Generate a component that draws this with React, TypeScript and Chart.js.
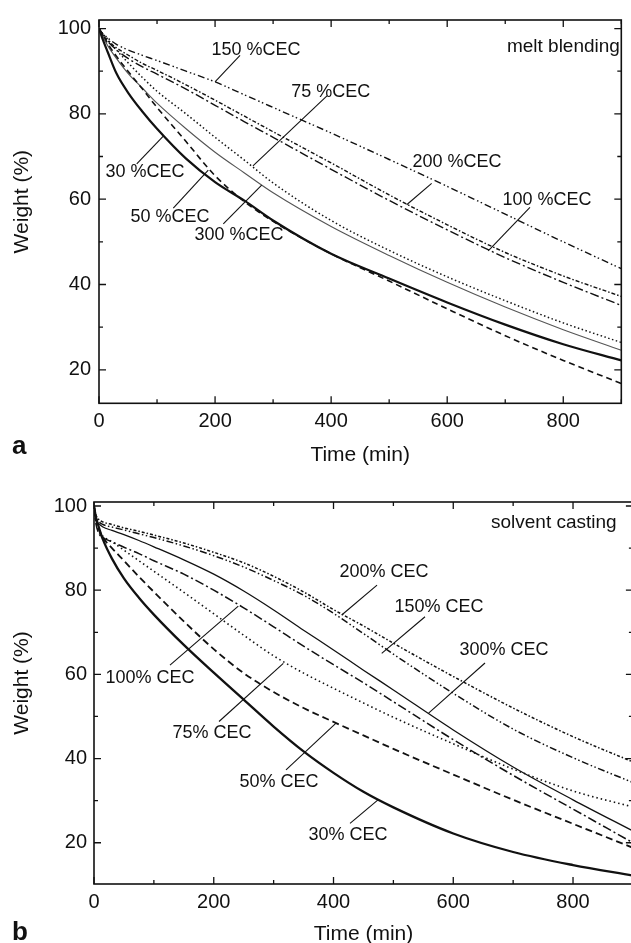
import React, { useEffect, useRef } from "react";
import { Chart, registerables } from "chart.js";

Chart.register(...registerables);

const FONT = 'Arial, "Liberation Sans", Helvetica, sans-serif';
const INK = "#111111";

// ---------- axis ticks ----------
const X_TICKS = [0, 200, 400, 600, 800];
const Y_TICKS = [20, 40, 60, 80, 100];
const X_MINOR_STEP = 100;
const Y_MINOR_STEP = 10;

// ---------- panel a : melt blending ----------
const TIME_A = [0, 5, 15, 30, 50, 75, 100, 150, 200, 250, 300, 400, 500, 600, 700, 800, 900];
const MB_30 = [100, 98, 94.5, 89.5, 85, 80.5, 76.5, 69.5, 64, 59.7, 55, 47.2, 41.4, 35.8, 30.6, 26, 22.2];
const MB_50 = [100, 99, 96.5, 93.5, 90, 85.8, 81.5, 73.5, 65.5, 59.5, 54.8, 47.2, 40.8, 34.3, 28, 22.2, 16.8];
const MB_75 = [100, 99, 97.5, 95, 92, 88.5, 85.3, 80, 74.5, 69.2, 63.8, 55, 48, 41.8, 36.2, 31, 26.4];
const MB_100 = [100, 98.8, 97, 95, 93, 91, 89.3, 85.8, 82, 78.2, 74.5, 67, 59.7, 52.8, 46.3, 40.5, 35.1];
const MB_150 = [100, 99, 97.8, 96.3, 95, 93.7, 92.5, 90, 87.5, 84.5, 81.5, 75.5, 69.3, 63, 56.5, 50, 43.7];
const MB_200 = [100, 98.8, 97.2, 95.5, 93.8, 91.8, 90.2, 86.8, 83.2, 79.5, 75.8, 68.5, 61, 54, 47.5, 42, 37.2];
const MB_300 = [100, 98.5, 96, 93, 89.5, 86, 82.5, 76.5, 71, 66.2, 61.5, 53.6, 46.8, 40.5, 34.7, 29.4, 24.6];

// ---------- panel b : solvent casting ----------
const TIME_B = [0, 3, 8, 15, 30, 50, 75, 100, 150, 200, 250, 300, 350, 400, 450, 500, 600, 700, 800, 900];
const SC_30 = [100, 97.5, 95, 92, 87.5, 82.8, 78.2, 74.2, 67, 60.4, 54, 47.6, 41.7, 36.6, 32.1, 28.4, 22.2, 17.8, 14.7, 12.2];
const SC_50 = [100, 97, 94.5, 92.5, 90, 87, 83.2, 79.6, 72.6, 66, 60.3, 55.8, 52, 48.7, 45.5, 42.3, 36.2, 30.2, 24.5, 18.8];
const SC_75 = [100, 96.5, 94, 92.8, 91.5, 89.5, 87, 84.5, 79.5, 74.4, 69.3, 64.4, 60.3, 56.7, 53.2, 49.8, 43.5, 37.5, 32.3, 28.5];
const SC_100 = [100, 96, 93.5, 92.5, 91.5, 90.2, 88.7, 87, 83.8, 80, 75.8, 71.3, 66.7, 62.3, 58, 53.5, 44.5, 36, 28, 20];
const SC_150 = [100, 97.5, 96.3, 95.6, 95, 94.3, 93.4, 92.5, 90.5, 88.2, 85.5, 82.3, 78.8, 74.5, 69.7, 64.8, 55.5, 47, 40.2, 34.3];
const SC_200 = [100, 98, 96.8, 96.2, 95.6, 94.8, 94, 93.1, 91.2, 89, 86.5, 83.3, 79.6, 75.4, 71.5, 67.4, 59.5, 52, 45.2, 39.2];
const SC_300 = [100, 97, 95.8, 95, 94.2, 93.2, 91.8, 90.3, 87.2, 83.8, 79.8, 75.3, 70.5, 65.8, 61, 56.3, 46.8, 38, 30.2, 22.8];

// ---------- line styles ----------
const STYLE_A: Record<string, { w: number; dash: number[]; color: string }> = {
  "30": { w: 2.2, dash: [], color: INK },
  "50": { w: 1.6, dash: [6, 4], color: INK },
  "75": { w: 1.5, dash: [1.5, 2.5], color: INK },
  "100": { w: 1.4, dash: [9, 3, 2, 3], color: INK },
  "150": { w: 1.4, dash: [7, 3, 1.5, 2.5, 1.5, 3], color: INK },
  "200": { w: 1.4, dash: [4, 2, 1.5, 2], color: INK },
  "300": { w: 1.1, dash: [], color: "#555555" },
};
const STYLE_B: Record<string, { w: number; dash: number[]; color: string }> = {
  "30": { w: 2.3, dash: [], color: INK },
  "50": { w: 1.8, dash: [7, 4], color: INK },
  "75": { w: 1.6, dash: [1.5, 3], color: INK },
  "100": { w: 1.5, dash: [9, 3, 2, 3], color: INK },
  "150": { w: 1.5, dash: [7, 2.5, 1.5, 2.5, 1.5, 2.5], color: INK },
  "200": { w: 1.5, dash: [3, 2, 1.5, 2], color: INK },
  "300": { w: 1.3, dash: [], color: INK },
};

// ---------- curve labels (data coordinates) ----------
type Note = { text: string; at: [number, number]; from: [number, number]; to: [number, number] };
const NOTES_A: Note[] = [
  { text: "150 %CEC", at: [270.5, 94.85], from: [243, 93.7], to: [199.9, 87.5] },
  { text: "75 %CEC", at: [399.4, 85.2], from: [392.8, 84.2], to: [265.3, 67.8] },
  { text: "200 %CEC", at: [616.8, 68.8], from: [573.2, 63.7], to: [530.2, 58.7] },
  { text: "100 %CEC", at: [771.9, 59.8], from: [742.6, 58.1], to: [670.7, 47.9] },
  { text: "30 %CEC", at: [79.3, 66.35], from: [65, 68.3], to: [110.8, 74.8] },
  { text: "50 %CEC", at: [122.3, 55.85], from: [128, 57.9], to: [188.3, 66.8] },
  { text: "300 %CEC", at: [241.2, 51.7], from: [214.2, 54.2], to: [280.3, 63.3] },
];
const NOTES_B: Note[] = [
  { text: "200% CEC", at: [484.3, 84.3], from: [472.7, 81.2], to: [413.7, 74.1] },
  { text: "150% CEC", at: [576.2, 76], from: [552.8, 73.7], to: [480.5, 65] },
  { text: "300% CEC", at: [684.8, 65.8], from: [653, 62.7], to: [558.8, 50.8] },
  { text: "100% CEC", at: [93.5, 59.1], from: [126.9, 62.2], to: [241, 76.2] },
  { text: "75% CEC", at: [197, 46.1], from: [208.8, 48.8], to: [316.2, 62.6] },
  { text: "50% CEC", at: [309, 34.4], from: [320.7, 37.3], to: [404.2, 48.4] },
  { text: "30% CEC", at: [424.2, 21.8], from: [427.6, 24.6], to: [474.3, 30.2] },
];

type PanelSpec = {
  key: string;
  letter: string;
  caption: string;
  captionAt: [number, number];
  time: number[];
  series: [string, number[]][];
  styles: Record<string, { w: number; dash: number[]; color: string }>;
  notes: Note[];
  yMin: number;
  yMax: number;
  canvasW: number;
  canvasH: number;
  padTop: number;
  padRight: number;
  yAxisW: number;
  xAxisH: number;
  xTitlePad: number;
  yTickPad: number;
  letterBaseline: number;
};

const PANEL_A: PanelSpec = {
  key: "a",
  letter: "a",
  caption: "melt blending",
  captionAt: [897.6, 94.6],
  time: TIME_A,
  series: [
    ["30", MB_30], ["50", MB_50], ["75", MB_75], ["100", MB_100],
    ["150", MB_150], ["200", MB_200], ["300", MB_300],
  ],
  styles: STYLE_A,
  notes: NOTES_A,
  yMin: 12.15,
  yMax: 102,
  canvasW: 631,
  canvasH: 470,
  padTop: 14,
  padRight: 9.7,
  yAxisW: 99,
  xAxisH: 66.7,
  xTitlePad: 2.4,
  yTickPad: 8,
  letterBaseline: 454,
};

const PANEL_B: PanelSpec = {
  key: "b",
  letter: "b",
  caption: "solvent casting",
  captionAt: [872.9, 94.8],
  time: TIME_B,
  series: [
    ["30", SC_30], ["50", SC_50], ["75", SC_75], ["100", SC_100],
    ["150", SC_150], ["200", SC_200], ["300", SC_300],
  ],
  styles: STYLE_B,
  notes: NOTES_B,
  yMin: 10.2,
  yMax: 100.95,
  canvasW: 640,
  canvasH: 473,
  padTop: 32,
  padRight: 7.1,
  yAxisW: 94,
  xAxisH: 59,
  xTitlePad: -3.6,
  yTickPad: 7,
  letterBaseline: 470,
};

function makeDecor(spec: PanelSpec) {
  return {
    id: "decor_" + spec.key,
    afterDraw(chart: any) {
      const { ctx, chartArea: ca, scales } = chart;
      const xs = scales.x;
      const ys = scales.y;
      ctx.save();
      // frame
      ctx.strokeStyle = INK;
      ctx.lineWidth = 1.6;
      ctx.strokeRect(ca.left, ca.top, ca.right - ca.left, ca.bottom - ca.top);
      // inward ticks
      ctx.lineWidth = 1.3;
      ctx.beginPath();
      for (let v = xs.min; v <= xs.max + 1e-6; v += X_MINOR_STEP) {
        const p = xs.getPixelForValue(v);
        const len = X_TICKS.includes(v) ? 7 : 4;
        ctx.moveTo(p, ca.bottom);
        ctx.lineTo(p, ca.bottom - len);
        ctx.moveTo(p, ca.top);
        ctx.lineTo(p, ca.top + len);
      }
      for (let v = Math.ceil(ys.min / Y_MINOR_STEP) * Y_MINOR_STEP; v <= ys.max + 1e-6; v += Y_MINOR_STEP) {
        const p = ys.getPixelForValue(v);
        const len = Y_TICKS.includes(v) ? 7 : 4;
        ctx.moveTo(ca.left, p);
        ctx.lineTo(ca.left + len, p);
        ctx.moveTo(ca.right, p);
        ctx.lineTo(ca.right - len, p);
      }
      ctx.stroke();

      // curve labels with leader lines
      ctx.fillStyle = INK;
      ctx.strokeStyle = INK;
      ctx.lineWidth = 1.1;
      ctx.font = `18px ${FONT}`;
      ctx.textAlign = "center";
      ctx.textBaseline = "middle";
      for (const n of spec.notes) {
        ctx.beginPath();
        ctx.moveTo(xs.getPixelForValue(n.from[0]), ys.getPixelForValue(n.from[1]));
        ctx.lineTo(xs.getPixelForValue(n.to[0]), ys.getPixelForValue(n.to[1]));
        ctx.stroke();
        ctx.fillText(n.text, xs.getPixelForValue(n.at[0]), ys.getPixelForValue(n.at[1]));
      }

      // caption
      ctx.font = `19px ${FONT}`;
      ctx.textAlign = "right";
      ctx.textBaseline = "alphabetic";
      ctx.fillText(spec.caption, xs.getPixelForValue(spec.captionAt[0]), ys.getPixelForValue(spec.captionAt[1]));

      // y title
      ctx.save();
      ctx.translate(22, (ca.top + ca.bottom) / 2 - 10);
      ctx.rotate(-Math.PI / 2);
      ctx.font = `21px ${FONT}`;
      ctx.textAlign = "center";
      ctx.textBaseline = "middle";
      ctx.fillText("Weight (%)", 0, 0);
      ctx.restore();

      // panel letter
      ctx.font = `bold 26px ${FONT}`;
      ctx.textAlign = "left";
      ctx.textBaseline = "alphabetic";
      ctx.fillText(spec.letter, 12, spec.letterBaseline);
      ctx.restore();
    },
  };
}

function makeConfig(spec: PanelSpec): any {
  const datasets = spec.series.map(([name, vals]) => {
    const st = spec.styles[name];
    return {
      label: name + "% CEC",
      data: spec.time.map((t, i) => ({ x: t, y: vals[i] })),
      borderColor: st.color,
      borderWidth: st.w,
      borderDash: st.dash,
      pointRadius: 0,
      fill: false,
      cubicInterpolationMode: "monotone",
    };
  });
  return {
    type: "line",
    data: { datasets },
    options: {
      animation: false,
      responsive: false,
      events: [],
      layout: { padding: { left: 0, top: spec.padTop, right: spec.padRight, bottom: 0 } },
      plugins: { legend: { display: false }, tooltip: { enabled: false } },
      scales: {
        x: {
          type: "linear",
          min: 0,
          max: 900,
          grid: { display: false, drawTicks: false },
          border: { display: false },
          ticks: { font: { family: FONT, size: 20 }, color: INK, padding: 6, maxRotation: 0, autoSkip: false },
          afterBuildTicks: (s: any) => {
            s.ticks = X_TICKS.map((v) => ({ value: v }));
          },
          afterFit: (s: any) => {
            s.height = spec.xAxisH;
          },
          title: {
            display: true,
            text: "Time (min)",
            color: INK,
            font: { family: FONT, size: 21 },
            padding: { top: 0, bottom: spec.xTitlePad },
          },
        },
        y: {
          type: "linear",
          min: spec.yMin,
          max: spec.yMax,
          grid: { display: false, drawTicks: false },
          border: { display: false },
          ticks: { font: { family: FONT, size: 20 }, color: INK, padding: spec.yTickPad },
          afterBuildTicks: (s: any) => {
            s.ticks = Y_TICKS.map((v) => ({ value: v }));
          },
          afterFit: (s: any) => {
            s.width = spec.yAxisW;
          },
        },
      },
    },
    plugins: [makeDecor(spec)],
  };
}

function Panel({ spec, top }: { spec: PanelSpec; top: number }) {
  const ref = useRef<HTMLCanvasElement>(null);
  useEffect(() => {
    const chart = new Chart(ref.current as HTMLCanvasElement, makeConfig(spec));
    return () => chart.destroy();
  }, [spec]);
  return (
    <canvas
      ref={ref}
      width={spec.canvasW}
      height={spec.canvasH}
      style={{ position: "absolute", left: 0, top, width: spec.canvasW, height: spec.canvasH, display: "block" }}
    />
  );
}

export default function App() {
  useEffect(() => {
    document.body.style.margin = "0";
  }, []);
  return (
    <div style={{ position: "relative", width: 631, height: 943, overflow: "hidden", background: "#fff" }}>
      <Panel spec={PANEL_A} top={0} />
      <Panel spec={PANEL_B} top={470} />
    </div>
  );
}
